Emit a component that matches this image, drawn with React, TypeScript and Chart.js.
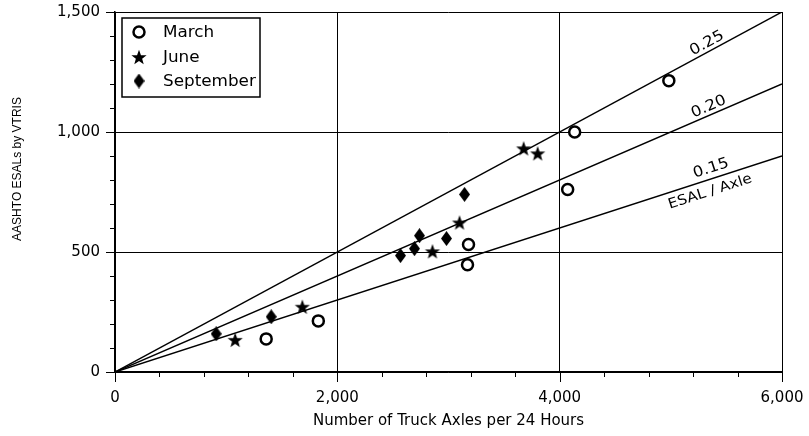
import React, { useEffect, useRef } from 'react';
import { Chart, registerables } from 'chart.js';

Chart.register(...registerables);

// ---- data ----
const marchX = [1360, 1829, 3171, 3180, 4072, 4135, 4982];
const marchY = [138, 213, 447, 531, 760, 1000, 1214];
const juneX = [1081, 1685, 2856, 3099, 3676, 3802];
const juneY = [134, 272, 503, 623, 932, 911];
const septX = [910, 1405, 2568, 2694, 2739, 2982, 3144];
const septY = [159, 230, 485, 514, 568, 556, 740];

const ratioLineX = [0, 6000];
const esal025 = [0, 1500];
const esal020 = [0, 1200];
const esal015 = [0, 900];
const ratioLabels = ['0.25', '0.20', '0.15'];
const unitLabel = 'ESAL / Axle';

const legendLabels = ['March', 'June', 'September'];
const xTitle = 'Number of Truck Axles per 24 Hours';
const yTitle = 'AASHTO ESALs by VTRIS';

const FONT = '"DejaVu Sans", sans-serif';

function toPoints(xs: number[], ys: number[]) {
  return xs.map((x, i) => ({ x, y: ys[i] }));
}

function makeStar(R: number, r: number) {
  const c = document.createElement('canvas');
  const s = Math.ceil(2 * R) + 2;
  c.width = s;
  c.height = s;
  const g = c.getContext('2d')!;
  g.fillStyle = '#000';
  g.beginPath();
  for (let i = 0; i < 10; i++) {
    const rad = i % 2 === 0 ? R : r;
    const a = -Math.PI / 2 + (i * Math.PI) / 5;
    const px = s / 2 + rad * Math.cos(a);
    const py = s / 2 + 0.8 + rad * Math.sin(a);
    if (i === 0) g.moveTo(px, py);
    else g.lineTo(px, py);
  }
  g.closePath();
  g.fill();
  return c;
}

function makeDiamond(w: number, h: number) {
  const c = document.createElement('canvas');
  c.width = w;
  c.height = h;
  const g = c.getContext('2d')!;
  g.fillStyle = '#000';
  g.beginPath();
  g.moveTo(w / 2, 0);
  g.lineTo(w, h / 2);
  g.lineTo(w / 2, h);
  g.lineTo(0, h / 2);
  g.closePath();
  g.fill();
  return c;
}

const zeroPad = (s: any) => {
  s.paddingTop = 0;
  s.paddingBottom = 0;
  s.paddingLeft = 0;
  s.paddingRight = 0;
};

export default function App() {
  const ref = useRef<HTMLCanvasElement | null>(null);

  useEffect(() => {
    const canvas = ref.current;
    if (!canvas) return;
    const starImg = makeStar(8, 3.3);
    const diamondImg = makeDiamond(11, 15);

    const drawCircle = (ctx: CanvasRenderingContext2D, cx: number, cy: number) => {
      ctx.save();
      ctx.beginPath();
      ctx.arc(cx, cy, 5.5, 0, Math.PI * 2);
      ctx.fillStyle = '#fff';
      ctx.fill();
      ctx.lineWidth = 2.5;
      ctx.strokeStyle = '#000';
      ctx.stroke();
      ctx.restore();
    };

    const decor = {
      id: 'decor',
      afterDraw(chart: any) {
        const { ctx, chartArea: ca, scales } = chart;
        const xs = scales.x;
        const ys = scales.y;
        ctx.save();
        ctx.strokeStyle = '#000';
        ctx.lineWidth = 1;
        // minor / major tick marks
        xs.ticks.forEach((t: any) => {
          const px = Math.round(xs.getPixelForValue(t.value)) + 0.5;
          const len = t.value % 2000 === 0 ? 10 : 5;
          ctx.beginPath();
          ctx.moveTo(px, ca.bottom);
          ctx.lineTo(px, ca.bottom + len);
          ctx.stroke();
        });
        ys.ticks.forEach((t: any) => {
          const py = Math.round(ys.getPixelForValue(t.value)) + 0.5;
          const len = t.value % 500 === 0 ? 9 : 5;
          ctx.beginPath();
          ctx.moveTo(ca.left, py);
          ctx.lineTo(ca.left - len, py);
          ctx.stroke();
        });

        // ratio line labels
        const lines = [esal025, esal020, esal015];
        const anchors = [5360, 5370, 5390];
        const offs = [8, 8, 10];
        ctx.fillStyle = '#000';
        ctx.textAlign = 'center';
        ctx.textBaseline = 'middle';
        const drawOnLine = (ysArr: number[], xv: number, off: number, text: string, size: number) => {
          const slope = ysArr[1] / ratioLineX[1];
          const p0x = xs.getPixelForValue(ratioLineX[0]);
          const p0y = ys.getPixelForValue(ysArr[0]);
          const p1x = xs.getPixelForValue(ratioLineX[1]);
          const p1y = ys.getPixelForValue(ysArr[1]);
          const ang = Math.atan2(p1y - p0y, p1x - p0x);
          const px = xs.getPixelForValue(xv);
          const py = ys.getPixelForValue(slope * xv);
          ctx.save();
          ctx.translate(px, py);
          ctx.rotate(ang);
          ctx.translate(0, -off);
          ctx.scale(1.1, 1);
          ctx.font = `${size}px ${FONT}`;
          ctx.fillText(text, 0, 0);
          ctx.restore();
        };
        lines.forEach((l, i) => drawOnLine(l, anchors[i], offs[i], ratioLabels[i], 15));
        drawOnLine(esal015, 5320, -12, unitLabel, 14);

        // y title
        ctx.save();
        ctx.translate(18, 169);
        ctx.rotate(-Math.PI / 2);
        ctx.font = `12px "Liberation Sans", Arial, sans-serif`;
        ctx.textAlign = 'center';
        ctx.textBaseline = 'middle';
        ctx.fillText(yTitle, 0, 0);
        ctx.restore();

        // legend
        const lx = 122, ly = 18, lw = 138, lh = 79;
        ctx.fillStyle = '#fff';
        ctx.fillRect(lx, ly, lw, lh);
        ctx.lineWidth = 1.5;
        ctx.strokeStyle = '#000';
        ctx.strokeRect(lx, ly, lw, lh);
        const rows = [32, 57, 81];
        drawCircle(ctx, 139, rows[0]);
        ctx.drawImage(starImg, 139 - starImg.width / 2, rows[1] - starImg.height / 2);
        ctx.drawImage(diamondImg, 139 - diamondImg.width / 2, rows[2] - diamondImg.height / 2);
        ctx.fillStyle = '#000';
        ctx.textAlign = 'left';
        ctx.textBaseline = 'middle';
        legendLabels.forEach((lab, i) => {
          ctx.save();
          ctx.translate(163, rows[i] + 1);
          ctx.scale(1.12, 1);
          ctx.font = `15px ${FONT}`;
          ctx.fillText(lab, 0, 0);
          ctx.restore();
        });
        ctx.restore();
      },
    };

    const lineDs = (data: number[], label: string) => ({
      label,
      data: toPoints(ratioLineX, data),
      showLine: true,
      pointRadius: 0,
      borderColor: '#000',
      borderWidth: 1.5,
      fill: false,
      order: 2,
    });

    const chart = new Chart(canvas, {
      type: 'scatter',
      data: {
        datasets: [
          {
            label: legendLabels[0],
            data: toPoints(marchX, marchY),
            pointStyle: 'circle',
            pointRadius: 5.5,
            pointBorderWidth: 2.5,
            borderColor: '#000',
            backgroundColor: '#fff',
            order: 0,
          },
          {
            label: legendLabels[1],
            data: toPoints(juneX, juneY),
            pointStyle: starImg as any,
            pointRadius: 8,
            borderColor: '#000',
            backgroundColor: '#000',
            order: 0,
          },
          {
            label: legendLabels[2],
            data: toPoints(septX, septY),
            pointStyle: diamondImg as any,
            pointRadius: 7,
            borderColor: '#000',
            backgroundColor: '#000',
            order: 0,
          },
          lineDs(esal025, '0.25 ESAL/Axle'),
          lineDs(esal020, '0.20 ESAL/Axle'),
          lineDs(esal015, '0.15 ESAL/Axle'),
        ] as any,
      },
      options: {
        animation: false,
        responsive: false,
        devicePixelRatio: 1,
        events: [],
        layout: { padding: { left: 0, top: 12, right: 27, bottom: 0 } },
        plugins: {
          legend: { display: false },
          tooltip: { enabled: false },
        },
        scales: {
          x: {
            type: 'linear',
            min: 0,
            max: 6000,
            afterFit: (s: any) => {
              s.height = 64;
              zeroPad(s);
            },
            grid: {
              color: (c: any) => (c.tick && c.tick.value % 2000 === 0 ? '#000' : 'rgba(0,0,0,0)'),
              lineWidth: 1,
              drawTicks: false,
            },
            border: { display: true, color: '#000', width: 1.5 },
            ticks: {
              stepSize: 400,
              autoSkip: false,
              maxRotation: 0,
              padding: 17,
              color: '#000',
              font: { family: FONT, size: 15 },
              callback: (v: any) => (Number(v) % 2000 === 0 ? Number(v).toLocaleString('en-US') : ''),
            },
            title: {
              display: true,
              text: xTitle,
              color: '#000',
              font: { family: FONT, size: 15 },
              padding: 6,
            },
          },
          y: {
            type: 'linear',
            min: 0,
            max: 1500,
            afterFit: (s: any) => {
              s.width = 115;
              zeroPad(s);
            },
            grid: {
              color: (c: any) => (c.tick && c.tick.value % 500 === 0 ? '#000' : 'rgba(0,0,0,0)'),
              lineWidth: 1,
              drawTicks: false,
            },
            border: { display: true, color: '#000', width: 1.5 },
            ticks: {
              stepSize: 100,
              autoSkip: false,
              padding: 15,
              color: '#000',
              font: { family: FONT, size: 15 },
              callback: (v: any) => (Number(v) % 500 === 0 ? Number(v).toLocaleString('en-US') : ''),
            },
          },
        },
      } as any,
      plugins: [decor],
    });

    return () => chart.destroy();
  }, []);

  return (
    <div style={{ position: 'fixed', left: 0, top: 0, width: 809, height: 436, background: '#fff' }}>
      <canvas ref={ref} width={809} height={436} style={{ display: 'block' }} />
    </div>
  );
}
